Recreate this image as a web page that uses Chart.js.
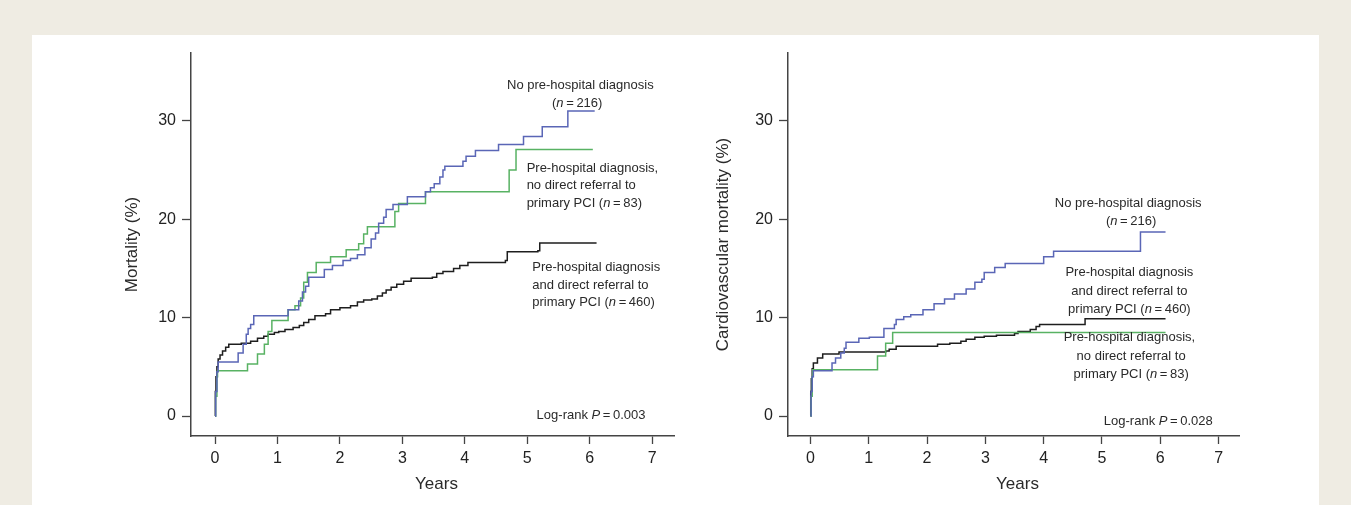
<!DOCTYPE html>
<html>
<head>
<meta charset="utf-8">
<script src="https://cdn.jsdelivr.net/npm/chart.js@4.4.0/dist/chart.umd.min.js"></script>
<style>
html, body { margin: 0; padding: 0; width: 1351px; height: 505px; overflow: hidden; background: #efece3; }
#panel { position: absolute; left: 32px; top: 35px; width: 1287px; height: 470px; background: #fff; }
#c1 { position: absolute; left: 0; top: 0; }
#c2 { position: absolute; left: 700px; top: 0; }
</style>
</head>
<body>
<div id="panel"></div>
<canvas id="c1" width="700" height="505"></canvas>
<canvas id="c2" width="651" height="505"></canvas>
<script>
// tick labels
var yearTicks = [0, 1, 2, 3, 4, 5, 6, 7];
var pctTicks = [0, 10, 20, 30];

// all-cause mortality (left panel)
var allNoPreT = [0, 0.01, 0.03, 0.05, 0.37, 0.45, 0.5, 0.53, 0.57, 0.62, 1.17, 1.34, 1.4, 1.45, 1.5, 1.75, 1.88, 2.05, 2.17, 2.28, 2.4, 2.5, 2.57, 2.62, 2.7, 2.74, 2.85, 3.08, 3.37, 3.45, 3.51, 3.6, 3.65, 3.68, 3.97, 4.02, 4.17, 4.54, 4.94, 5.24, 5.65, 6.08];
var allNoPreV = [0, 2.5, 4.5, 5.5, 6.4, 7.3, 8.3, 8.9, 9.3, 10.2, 10.8, 11.7, 12.6, 13.2, 14.1, 14.9, 15.3, 15.8, 16.0, 16.4, 17.1, 18.0, 18.6, 19.6, 20.2, 21.0, 21.5, 22.3, 22.8, 23.2, 23.6, 24.3, 25.0, 25.4, 25.9, 26.4, 27.0, 27.6, 28.4, 29.4, 31.0, 31.0];
var allNoRefT = [0, 0.01, 0.03, 0.04, 0.52, 0.68, 0.79, 0.85, 0.91, 1.17, 1.28, 1.37, 1.42, 1.48, 1.62, 1.85, 2.1, 2.3, 2.38, 2.44, 2.88, 2.94, 3.37, 4.71, 4.82, 6.05];
var allNoRefV = [0, 2, 4, 4.6, 5.3, 6.3, 7.3, 8.6, 9.7, 10.8, 11.2, 12.0, 13.6, 14.6, 15.6, 16.2, 16.9, 17.5, 18.5, 19.25, 20.8, 21.6, 22.8, 25.0, 27.1, 27.1];
var allDirectT = [0, 0.005, 0.015, 0.03, 0.05, 0.08, 0.12, 0.17, 0.22, 0.42, 0.57, 0.68, 0.78, 0.85, 0.95, 1.02, 1.12, 1.25, 1.35, 1.42, 1.5, 1.6, 1.77, 1.85, 2.0, 2.17, 2.28, 2.38, 2.51, 2.6, 2.68, 2.74, 2.82, 2.91, 3.02, 3.14, 3.48, 3.55, 3.65, 3.82, 3.92, 4.05, 4.65, 4.68, 5.17, 5.2, 6.11];
var allDirectV = [0, 2.5, 4, 5, 5.8, 6.2, 6.6, 7.0, 7.3, 7.4, 7.6, 7.9, 8.1, 8.3, 8.5, 8.6, 8.8, 9.0, 9.2, 9.5, 9.8, 10.2, 10.4, 10.8, 11.0, 11.2, 11.6, 11.8, 11.9, 12.2, 12.5, 12.8, 13.1, 13.4, 13.7, 14.0, 14.1, 14.5, 14.7, 15.0, 15.3, 15.6, 15.8, 16.7, 16.8, 17.6, 17.6];

// cardiovascular mortality (right panel)
var cvNoPreT = [0, 0.01, 0.03, 0.05, 0.37, 0.43, 0.52, 0.58, 0.61, 0.83, 1.01, 1.26, 1.44, 1.47, 1.6, 1.72, 1.93, 2.12, 2.3, 2.47, 2.67, 2.82, 2.94, 2.98, 3.16, 3.34, 4.0, 4.17, 5.66, 6.09];
var cvNoPreV = [0, 2.5, 4.0, 4.6, 5.4, 5.9, 6.4, 6.9, 7.5, 7.9, 8.0, 8.9, 9.3, 9.8, 10.1, 10.3, 10.8, 11.4, 11.9, 12.4, 12.9, 13.6, 13.9, 14.6, 15.1, 15.5, 16.2, 16.75, 18.7, 18.7];
var cvNoRefT = [0, 0.01, 0.03, 0.04, 1.15, 1.29, 1.41, 6.09];
var cvNoRefV = [0, 2, 4, 4.7, 6.1, 7.4, 8.5, 8.5];
var cvDirectT = [0, 0.005, 0.015, 0.03, 0.05, 0.12, 0.21, 0.49, 1.29, 1.35, 1.47, 2.18, 2.39, 2.58, 2.67, 2.82, 2.98, 3.19, 3.5, 3.56, 3.77, 3.87, 3.93, 4.71, 6.09];
var cvDirectV = [0, 2.5, 3.8, 4.8, 5.4, 5.9, 6.3, 6.5, 6.6, 6.8, 7.1, 7.3, 7.4, 7.6, 7.8, 8.0, 8.1, 8.2, 8.4, 8.6, 8.8, 9.1, 9.3, 9.9, 9.9];

var FONT = '"Liberation Sans", Arial, Helvetica, sans-serif';
var BLUE = '#5a66b6';
var GREEN = '#58b263';
var BLACK = '#1e1e1e';

function pts(t, v) {
	return t.map(function(x, i) { return { x: x, y: v[i] }; });
}

function line(data, color) {
	return {
		data: data,
		borderColor: color,
		borderWidth: 1.5,
		stepped: true,
		pointRadius: 0,
		fill: false
	};
}

// draws text with *italic* parts
function drawRich(ctx, str, x, y, align) {
	var parts = str.split('*');
	var total = 0;
	parts.forEach(function(p, i) {
		ctx.font = (i % 2 ? 'italic ' : '') + '13px ' + FONT;
		total += ctx.measureText(p).width;
	});
	var cx = align === 'center' ? x - total / 2 : (align === 'right' ? x - total : x);
	ctx.textAlign = 'left';
	ctx.textBaseline = 'middle';
	parts.forEach(function(p, i) {
		ctx.font = (i % 2 ? 'italic ' : '') + '13px ' + FONT;
		ctx.fillText(p, cx, y);
		cx += ctx.measureText(p).width;
	});
}

var notesPlugin = {
	id: 'notes',
	afterDraw: function(chart, args, opts) {
		var ctx = chart.ctx;
		var xs = chart.scales.x, ys = chart.scales.y;
		var area = chart.chartArea;
		ctx.save();
		ctx.fillStyle = '#2a2a2a';
		opts.notes.forEach(function(n) {
			drawRich(ctx, n[0], xs.getPixelForValue(n[1]), ys.getPixelForValue(n[2]), n[3]);
		});
		ctx.font = '17px ' + FONT;
		ctx.textAlign = 'center';
		ctx.textBaseline = 'middle';
		ctx.fillText('Years', (area.left + area.right) / 2 + 4, 484);
		ctx.translate(opts.yTitleX, (area.top + area.bottom) / 2);
		ctx.rotate(-Math.PI / 2);
		ctx.fillText(opts.yTitle, 0, 0);
		ctx.restore();
	}
};

function makeChart(id, sets, yWidth, padRight, yTitle, yTitleX, notes) {
	return new Chart(document.getElementById(id), {
		type: 'line',
		data: { datasets: sets },
		plugins: [notesPlugin],
		options: {
			responsive: false,
			animation: false,
			layout: { padding: { top: 53, right: padRight, bottom: 0, left: 0 } },
			plugins: {
				legend: { display: false },
				tooltip: { enabled: false },
				notes: { notes: notes, yTitle: yTitle, yTitleX: yTitleX }
			},
			scales: {
				x: {
					type: 'linear',
					min: -0.385,
					max: 7.35,
					afterBuildTicks: function(s) { s.ticks = yearTicks.map(function(v) { return { value: v }; }); },
					afterFit: function(s) { s.height = 69; },
					ticks: { font: { family: FONT, size: 16 }, color: '#222', padding: 5, maxRotation: 0 },
					grid: { drawOnChartArea: false, drawTicks: true, tickLength: 8, tickColor: '#444', tickWidth: 1.3 },
					border: { display: true, color: '#444', width: 1.5 }
				},
				y: {
					min: -2.03,
					max: 36.9,
					afterBuildTicks: function(s) { s.ticks = pctTicks.map(function(v) { return { value: v }; }); },
					afterFit: function(s) { s.width = yWidth; },
					ticks: { font: { family: FONT, size: 16 }, color: '#222', padding: 6 },
					grid: { drawOnChartArea: false, drawTicks: true, tickLength: 9, tickColor: '#444', tickWidth: 1.3 },
					border: { display: true, color: '#444', width: 1.5 }
				}
			}
		}
	});
}

makeChart('c1', [
	line(pts(allNoPreT, allNoPreV), BLUE),
	line(pts(allNoRefT, allNoRefV), GREEN),
	line(pts(allDirectT, allDirectV), BLACK)
], 191, 26, 'Mortality (%)', 132, [
	['No pre-hospital diagnosis', 5.85, 33.6, 'center'],
	['(*n*\u2009=\u2009216)', 5.8, 31.8, 'center'],
	['Pre-hospital diagnosis,', 4.99, 25.2, 'left'],
	['no direct referral to', 4.99, 23.4, 'left'],
	['primary PCI (*n*\u2009=\u200983)', 4.99, 21.6, 'left'],
	['Pre-hospital diagnosis', 5.08, 15.1, 'left'],
	['and direct referral to', 5.08, 13.3, 'left'],
	['primary PCI (*n*\u2009=\u2009460)', 5.08, 11.5, 'left'],
	['Log-rank *P*\u2009=\u20090.003', 5.15, 0.1, 'left']
]);

makeChart('c2', [
	line(pts(cvNoPreT, cvNoPreV), BLUE),
	line(pts(cvNoRefT, cvNoRefV), GREEN),
	line(pts(cvDirectT, cvDirectV), BLACK)
], 88, 112, 'Cardiovascular mortality (%)', 23, [
	['No pre-hospital diagnosis', 5.45, 21.6, 'center'],
	['(*n*\u2009=\u2009216)', 5.5, 19.8, 'center'],
	['Pre-hospital diagnosis', 5.47, 14.6, 'center'],
	['and direct referral to', 5.47, 12.7, 'center'],
	['primary PCI (*n*\u2009=\u2009460)', 5.47, 10.8, 'center'],
	['Pre-hospital diagnosis,', 5.47, 8.0, 'center'],
	['no direct referral to', 5.5, 6.1, 'center'],
	['primary PCI (*n*\u2009=\u200983)', 5.5, 4.2, 'center'],
	['Log-rank *P*\u2009=\u20090.028', 6.9, -0.55, 'right']
]);
</script>
</body>
</html>
